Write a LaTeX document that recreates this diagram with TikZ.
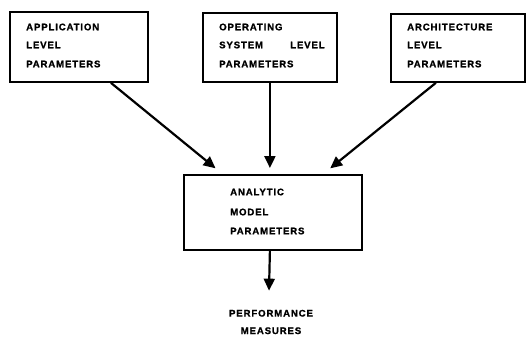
\documentclass[tikz,border=0pt]{standalone}
\usepackage{fontspec}
\usetikzlibrary{arrows.meta}
\newfontfamily\lblfont[LetterSpace=9,FakeBold=1.2]{Liberation Sans Bold}
\begin{document}
\begin{tikzpicture}[x=1pt,y=-1pt,
  box/.style={draw,line width=1.8pt,rectangle,inner sep=0,anchor=north west},
  lbl/.style={font=\lblfont\fontsize{9.6}{11}\selectfont,inner sep=0,anchor=west},
  arr/.style={line width=2.2pt,-{Triangle[length=12pt,width=11pt]}}]
\useasboundingbox (0,0) rectangle (526,337);
% boxes
\node[box,minimum width=138,minimum height=70] (b1) at (9,11) {};
\node[box,minimum width=134,minimum height=69] (b2) at (202,12) {};
\node[box,minimum width=134,minimum height=68] (b3) at (390,13) {};
\node[box,minimum width=178,minimum height=75] (b4) at (183,174) {};
% labels
\node[lbl] (t11) at (26,27) {APPLICATION};
\node[lbl] (t12) at (26,45) {LEVEL};
\node[lbl] (t13) at (26,64) {PARAMETERS};
\node[lbl] (t21) at (219,27) {OPERATING};
\node[lbl] (t22) at (219,45) {SYSTEM};
\node[lbl] (t22b) at (290,45) {LEVEL};
\node[lbl] (t23) at (219,64) {PARAMETERS};
\node[lbl] (t31) at (407,27) {ARCHITECTURE};
\node[lbl] (t32) at (407,45) {LEVEL};
\node[lbl] (t33) at (407,64) {PARAMETERS};
\node[lbl] (t41) at (230,192) {ANALYTIC};
\node[lbl] (t42) at (230,212) {MODEL};
\node[lbl] (t43) at (230,231) {PARAMETERS};
\node[lbl,anchor=center,align=center] (perf) at (271,322) {PERFORMANCE\\[6.5pt]MEASURES};
% arrows
\draw[arr,shorten >=9pt] ([xshift=32]b1.south) -- ([xshift=-50.4]b4.north);
\draw[arr,shorten >=6pt] (b2.south) -- ([xshift=-3]b4.north);
\draw[arr,shorten >=9pt] ([xshift=-22]b3.south) -- ([xshift=50.3]b4.north);
\draw[arr] ([xshift=-3]b4.south) -- ([xshift=-2,yshift=19]perf.north);
\end{tikzpicture}
\end{document}
